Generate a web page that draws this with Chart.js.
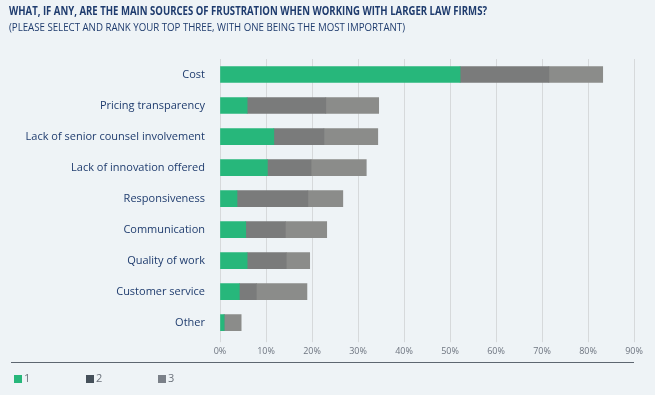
<!DOCTYPE html>
<html>
<head>
<meta charset="utf-8">
<script src="https://cdn.jsdelivr.net/npm/chart.js@4.4.0/dist/chart.umd.min.js"></script>
<style>
  html, body { margin: 0; padding: 0; background: #eef3f6; }
  #wrap { position: relative; width: 655px; height: 395px; }
  #chart { position: absolute; left: 0; top: 0; }
  .head { position: absolute; left: 9px; white-space: nowrap; color: #1f3c6e; font-family: "Open Sans", sans-serif; transform-origin: 0 0; }
  #title { top: 1.6px; font-size: 12.5px; font-weight: bold; transform: scaleX(0.766); }
  #subtitle { top: 18.7px; font-size: 11.2px; transform: scaleX(0.865); }
  #rule { position: absolute; left: 11px; top: 362px; width: 623px; height: 0; border-top: 1px solid #5d6670; }
  #legend { position: absolute; left: 14px; top: 370px; font: 11px "Open Sans", sans-serif; color: #6a717a; }
  #legend span.item { position: absolute; white-space: nowrap; }
  #legend i { display: inline-block; width: 8px; height: 8px; margin-right: 2px; vertical-align: -1px; }
</style>
</head>
<body>
<div id="wrap">
  <canvas id="chart" width="655" height="395"></canvas>
  <div id="title" class="head"></div>
  <div id="subtitle" class="head"></div>
  <div id="rule"></div>
  <div id="legend"></div>
</div>
<script>
const categories = [
  'Cost',
  'Pricing transparency',
  'Lack of senior counsel involvement',
  'Lack of innovation offered',
  'Responsiveness',
  'Communication',
  'Quality of work',
  'Customer service',
  'Other'
];

const rank1 = [52.2, 5.9, 11.7, 10.3, 3.7, 5.6, 5.9, 4.2, 0.9];
const rank2 = [19.3, 17.1, 10.9, 9.5, 15.4, 8.6, 8.5, 3.7, 0];
const rank3 = [11.7, 11.5, 11.7, 12.0, 7.6, 9.0, 5.1, 11.0, 3.7];

const seriesNames = ['1', '2', '3'];
const barColors = ['#27b77b', '#7a7b7b', '#8b8c8a'];
const legendColors = ['#27b77b', '#45505a', '#7a8088'];

const titleText = 'WHAT, IF ANY, ARE THE MAIN SOURCES OF FRUSTRATION WHEN WORKING WITH LARGER LAW FIRMS?';
const subtitleText = '(PLEASE SELECT AND RANK YOUR TOP THREE, WITH ONE BEING THE MOST IMPORTANT)';

const navy = '#1f3c6e';

document.getElementById('title').textContent = titleText;
document.getElementById('subtitle').textContent = subtitleText;

const chart = new Chart(document.getElementById('chart').getContext('2d'), {
  type: 'bar',
  data: {
    labels: categories,
    datasets: [rank1, rank2, rank3].map((vals, i) => ({
      label: seriesNames[i],
      data: vals,
      backgroundColor: barColors[i],
      borderWidth: 0,
      barThickness: 16
    }))
  },
  options: {
    indexAxis: 'y',
    responsive: false,
    animation: false,
    layout: { padding: { left: 0, right: 21, top: 59, bottom: 34 } },
    plugins: {
      legend: { display: false },
      tooltip: { enabled: false }
    },
    scales: {
      x: {
        stacked: true,
        min: 0,
        max: 90,
        ticks: {
          stepSize: 10,
          callback: (v) => v + '%',
          color: '#6e7580',
          font: { family: '"Open Sans", sans-serif', size: 9 },
          padding: 4,
          maxRotation: 0
        },
        grid: { color: '#d6d9db', lineWidth: 1, tickLength: 4, drawTicks: true },
        border: { display: false }
      },
      y: {
        stacked: true,
        afterFit: (scale) => { scale.width = 220; },
        ticks: {
          color: navy,
          font: { family: '"Open Sans", sans-serif', size: 11 },
          padding: 15
        },
        grid: { display: false, drawTicks: false },
        border: { display: true, color: '#d6d9db' }
      }
    }
  }
});

const legendEl = document.getElementById('legend');
seriesNames.forEach((name, i) => {
  const item = document.createElement('span');
  item.className = 'item';
  item.style.left = (i * 72) + 'px';
  item.innerHTML = '<i style="background:' + legendColors[i] + '"></i>' + name;
  legendEl.appendChild(item);
});
</script>
</body>
</html>
